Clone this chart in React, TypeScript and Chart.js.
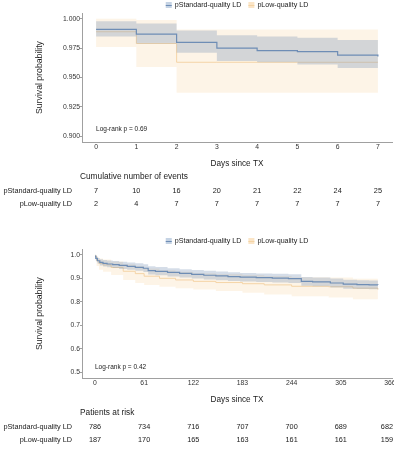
import React, { useEffect, useRef } from 'react';
import { Chart, registerables } from 'chart.js';

Chart.register(...registerables);

const FONT = '"Liberation Sans", Arial, sans-serif';
const AXIS = '#a0a0a0';
const TEXT = '#1a1a1a';
const STD_LINE = '#6E8DB5';
const STD_FILL = 'rgba(125,150,185,0.32)';
const STD_KEY = 'rgba(150,175,205,0.55)';
const LOW_LINE = 'rgba(243,208,160,0.9)';
const LOW_FILL = 'rgba(250,222,185,0.34)';
const LOW_KEY = 'rgba(250,222,185,0.8)';

const seriesNames = ['pStandard-quality LD', 'pLow-quality LD'];

// ---------- Top panel (first week) ----------
const topDays = [0, 1, 2, 3, 4, 5, 6, 7];
const topStdSurv = [0.991, 0.987, 0.98, 0.975, 0.973, 0.972, 0.969, 0.968];
const topStdUpper = [0.998, 0.996, 0.99, 0.986, 0.985, 0.984, 0.982, 0.982];
const topStdLower = [0.985, 0.979, 0.971, 0.964, 0.963, 0.961, 0.958, 0.958];
const topLowSurv = [0.989, 0.979, 0.963, 0.963, 0.963, 0.963, 0.963, 0.963];
const topLowUpper = [1.0, 0.999, 0.991, 0.991, 0.991, 0.991, 0.991, 0.991];
const topLowLower = [0.976, 0.959, 0.937, 0.937, 0.937, 0.937, 0.937, 0.937];
const topXTicks = [0, 1, 2, 3, 4, 5, 6, 7];
const topYTicks = [0.9, 0.925, 0.95, 0.975, 1.0];
const topStdEvents = [7, 10, 16, 20, 21, 22, 24, 25];
const topLowEvents = [2, 4, 7, 7, 7, 7, 7, 7];

// ---------- Bottom panel (first year) ----------
const botStdDays = [0, 1, 3, 6, 10, 15, 22, 30, 40, 50, 60, 66, 75, 90, 105, 120, 135, 150, 165, 180, 200, 220, 240, 256, 270, 292, 308, 325, 340, 351];
const botStdSurv = [0.995, 0.985, 0.975, 0.968, 0.964, 0.961, 0.958, 0.955, 0.951, 0.947, 0.943, 0.933, 0.93, 0.925, 0.921, 0.917, 0.913, 0.91, 0.907, 0.905, 0.903, 0.901, 0.899, 0.887, 0.885, 0.88, 0.875, 0.873, 0.872, 0.871];
const botStdUpper = [1.0, 0.994, 0.987, 0.981, 0.978, 0.976, 0.974, 0.971, 0.967, 0.964, 0.96, 0.951, 0.948, 0.943, 0.939, 0.935, 0.932, 0.929, 0.926, 0.923, 0.921, 0.919, 0.917, 0.906, 0.904, 0.899, 0.894, 0.892, 0.891, 0.889];
const botStdLower = [0.99, 0.976, 0.963, 0.955, 0.95, 0.947, 0.944, 0.94, 0.936, 0.932, 0.927, 0.916, 0.913, 0.908, 0.903, 0.899, 0.895, 0.892, 0.889, 0.886, 0.884, 0.882, 0.88, 0.868, 0.866, 0.861, 0.856, 0.854, 0.853, 0.852];
const botLowDays = [0, 2, 5, 10, 20, 35, 50, 61, 80, 100, 122, 150, 183, 210, 244, 290, 320, 351];
const botLowSurv = [0.995, 0.975, 0.963, 0.957, 0.946, 0.93, 0.92, 0.909, 0.9, 0.893, 0.887, 0.882, 0.877, 0.872, 0.866, 0.864, 0.858, 0.852];
const botLowUpper = [1.0, 0.99, 0.985, 0.98, 0.972, 0.96, 0.952, 0.942, 0.934, 0.928, 0.922, 0.918, 0.914, 0.91, 0.905, 0.903, 0.898, 0.894];
const botLowLower = [0.985, 0.953, 0.936, 0.928, 0.914, 0.893, 0.88, 0.872, 0.864, 0.858, 0.852, 0.846, 0.838, 0.831, 0.824, 0.818, 0.811, 0.803];
const botXTicks = [0, 61, 122, 183, 244, 305, 366];
const botYTicks = [0.5, 0.6, 0.7, 0.8, 0.9, 1.0];
const botStdRisk = [786, 734, 716, 707, 700, 689, 682];
const botLowRisk = [187, 170, 165, 163, 161, 161, 159];

type Panel = {
  height: number;
  stdDays: number[]; stdSurv: number[]; stdUp: number[]; stdLo: number[];
  lowDays: number[]; lowSurv: number[]; lowUp: number[]; lowLo: number[];
  xMin: number; xMax: number; xTicks: number[];
  yMin: number; yMax: number; yTicks: number[]; yDec: number;
  logRank: string; logRankX: number; logRankY: number;
  tableTitle: string; tableRows: number[][];
};

const topPanel: Panel = {
  height: 236,
  stdDays: topDays, stdSurv: topStdSurv, stdUp: topStdUpper, stdLo: topStdLower,
  lowDays: topDays, lowSurv: topLowSurv, lowUp: topLowUpper, lowLo: topLowLower,
  xMin: -0.35, xMax: 7.35, xTicks: topXTicks,
  yMin: 0.895, yMax: 1.005, yTicks: topYTicks, yDec: 3,
  logRank: 'Log-rank p = 0.69', logRankX: 0, logRankY: 0.906,
  tableTitle: 'Cumulative number of events', tableRows: [topStdEvents, topLowEvents],
};

const botPanel: Panel = {
  height: 219,
  stdDays: botStdDays, stdSurv: botStdSurv, stdUp: botStdUpper, stdLo: botStdLower,
  lowDays: botLowDays, lowSurv: botLowSurv, lowUp: botLowUpper, lowLo: botLowLower,
  xMin: -16.1, xMax: 368.5, xTicks: botXTicks,
  yMin: 0.475, yMax: 1.025, yTicks: botYTicks, yDec: 1,
  logRank: 'Log-rank p = 0.42', logRankX: 0, logRankY: 0.52,
  tableTitle: 'Patients at risk', tableRows: [botStdRisk, botLowRisk],
};

const pts = (xs: number[], ys: number[]) => xs.map((x, i) => ({ x, y: ys[i] }));

const legendItems = [
  { label: seriesNames[0], key: STD_KEY, line: STD_LINE },
  { label: seriesNames[1], key: LOW_KEY, line: LOW_LINE },
];

function decor(p: Panel) {
  return {
    id: 'kmDecor',
    afterDraw(chart: any) {
      const { ctx, chartArea: ca, scales } = chart;
      const xs = scales.x;
      const ys = scales.y;
      const W = chart.width;
      ctx.save();
      // legend
      ctx.font = `7.1px ${FONT}`;
      ctx.textBaseline = 'middle';
      ctx.textAlign = 'left';
      const key = 6, keyGap = 3, itemGap = 7;
      const widths = legendItems.map((it) => ctx.measureText(it.label).width);
      const total = widths.reduce((a, w) => a + w + key + keyGap, 0) + itemGap * (widths.length - 1);
      let lx = (ca.left + ca.right) / 2 - total / 2;
      const ly = ca.top - 8;
      legendItems.forEach((it, i) => {
        ctx.fillStyle = it.key;
        ctx.fillRect(lx, ly - key / 2, key, key);
        ctx.strokeStyle = it.line;
        ctx.lineWidth = 1;
        ctx.beginPath();
        ctx.moveTo(lx, ly + 0.5);
        ctx.lineTo(lx + key, ly + 0.5);
        ctx.stroke();
        ctx.fillStyle = TEXT;
        ctx.fillText(it.label, lx + key + keyGap, ly + 0.5);
        lx += key + keyGap + widths[i] + itemGap;
      });
      // log-rank annotation
      ctx.font = `6.5px ${FONT}`;
      ctx.fillStyle = TEXT;
      ctx.fillText(p.logRank, xs.getPixelForValue(p.logRankX), ys.getPixelForValue(p.logRankY));
      // table
      ctx.font = `8.3px ${FONT}`;
      ctx.textAlign = 'left';
      ctx.fillText(p.tableTitle, ca.left - 2, xs.bottom + 5);
      ctx.font = `7.3px ${FONT}`;
      p.tableRows.forEach((row, r) => {
        const y = xs.bottom + 19 + r * 13;
        ctx.textAlign = 'right';
        ctx.fillText(seriesNames[r], ca.left - 10, y);
        ctx.textAlign = 'center';
        row.forEach((v, i) => {
          const s = String(v);
          const half = ctx.measureText(s).width / 2;
          const cx = Math.min(xs.getPixelForValue(p.xTicks[i]), W - 1 - half);
          ctx.fillText(s, cx, y);
        });
      });
      ctx.restore();
    },
  };
}

function KMPanel({ p }: { p: Panel }) {
  const ref = useRef<HTMLCanvasElement>(null);
  useEffect(() => {
    const band = { borderColor: 'rgba(0,0,0,0)', borderWidth: 1, pointRadius: 0, stepped: 'before' as const };
    const chart = new Chart(ref.current as HTMLCanvasElement, {
      type: 'line',
      data: {
        datasets: [
          { label: seriesNames[0], data: pts(p.stdDays, p.stdSurv), borderColor: STD_LINE, borderWidth: 1.2, pointRadius: 0, stepped: 'before', fill: false },
          { label: 'std-upper', data: pts(p.stdDays, p.stdUp), ...band, fill: false },
          { label: 'std-lower', data: pts(p.stdDays, p.stdLo), ...band, fill: '-1', backgroundColor: STD_FILL },
          { label: seriesNames[1], data: pts(p.lowDays, p.lowSurv), borderColor: LOW_LINE, borderWidth: 1, pointRadius: 0, stepped: 'before', fill: false },
          { label: 'low-upper', data: pts(p.lowDays, p.lowUp), ...band, fill: false },
          { label: 'low-lower', data: pts(p.lowDays, p.lowLo), ...band, fill: '-1', backgroundColor: LOW_FILL },
        ] as any,
      },
      options: {
        animation: false,
        responsive: false,
        devicePixelRatio: 1,
        events: [],
        layout: { padding: { top: 13, left: 0, right: 2, bottom: p.height - 172 } },
        plugins: { legend: { display: false }, tooltip: { enabled: false } },
        scales: {
          x: {
            type: 'linear',
            min: p.xMin,
            max: p.xMax,
            afterBuildTicks: (s: any) => { s.ticks = p.xTicks.map((v) => ({ value: v })); },
            afterFit: (s: any) => { s.height = 30; s.paddingLeft = 0; s.paddingRight = 0; },
            grid: { display: true, drawOnChartArea: false, drawTicks: true, tickLength: 1, color: AXIS, tickColor: AXIS },
            border: { display: true, color: AXIS, width: 1 },
            ticks: { font: { family: FONT, size: 6.8 }, color: '#333', padding: 0, maxRotation: 0, autoSkip: false, callback: (v: any) => String(v) },
            title: { display: true, text: 'Days since TX', font: { family: FONT, size: 8.2 }, color: TEXT, padding: { top: 0, bottom: 3 } },
          },
          y: {
            type: 'linear',
            min: p.yMin,
            max: p.yMax,
            afterBuildTicks: (s: any) => { s.ticks = p.yTicks.map((v) => ({ value: v })); },
            afterFit: (s: any) => { s.width = 82; s.paddingTop = 0; s.paddingBottom = 0; },
            grid: { display: true, drawOnChartArea: false, drawTicks: true, tickLength: 2, color: AXIS, tickColor: AXIS },
            border: { display: true, color: AXIS, width: 1 },
            ticks: { font: { family: FONT, size: 6.8 }, color: '#333', padding: 0, autoSkip: false, callback: (v: any) => Number(v).toFixed(p.yDec) },
            title: { display: true, text: 'Survival probability', font: { family: FONT, size: 8.7 }, color: TEXT, padding: { top: 34.8, bottom: 0 } },
          },
        },
      } as any,
      plugins: [decor(p)],
    });
    return () => chart.destroy();
  }, [p]);
  return <canvas ref={ref} width={394} height={p.height} style={{ display: 'block', width: 394, height: p.height }} />;
}

export default function App() {
  return (
    <div style={{ position: 'absolute', left: 0, top: 0, width: 394, height: 455, overflow: 'hidden', background: '#fff' }}>
      <KMPanel p={topPanel} />
      <KMPanel p={botPanel} />
    </div>
  );
}
